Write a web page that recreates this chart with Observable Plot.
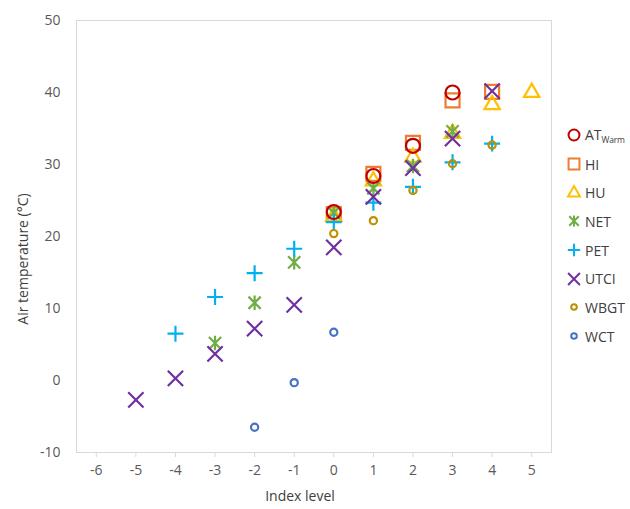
<!DOCTYPE html>
<html><head><meta charset="utf-8">
<script src="https://cdn.jsdelivr.net/npm/d3@7"></script>
<script src="https://cdn.jsdelivr.net/npm/@observablehq/plot@0.6"></script>
<style>
body{margin:0;background:#fff;font-family:"Open Sans",sans-serif;}
#wrap{position:relative;width:630px;height:509px;overflow:hidden;}
#wrap svg.chart{position:absolute;left:0;top:0;}
.ylab{position:absolute;left:22px;top:259px;transform:translate(-50%,-50%) rotate(-90deg);white-space:nowrap;font-size:14px;color:#404040;}
.xlab{position:absolute;left:300px;top:495px;transform:translate(-50%,-50%);white-space:nowrap;font-size:14px;color:#404040;}
.legend{position:absolute;left:565px;top:121px;font-size:14px;color:#404040;}
.legend .item{height:28.7px;display:flex;align-items:center;white-space:nowrap;}
.legend svg{width:18px;height:18px;margin-right:2px;flex:none;}
.legend sub{font-size:8.5px;vertical-align:-3px;letter-spacing:-0.2px;}
</style></head><body><div id="wrap"></div>
<script>
// ---- data ----
const xTicks = [-6, -5, -4, -3, -2, -1, 0, 1, 2, 3, 4, 5];
const yTicks = [-10, 0, 10, 20, 30, 40, 50];
const seriesNames = ["AT", "HI", "HU", "NET", "PET", "UTCI", "WBGT", "WCT"];

const atLevel = [0, 1, 2, 3];
const atTemp = [23.4, 28.4, 32.6, 40.0];
const hiLevel = [0, 1, 2, 3, 4];
const hiTemp = [23.1, 28.7, 33.0, 38.9, 40.1];
const huLevel = [0, 1, 2, 3, 4, 5];
const huTemp = [22.8, 27.7, 31.0, 34.3, 38.3, 40.0];
const netLevel = [-3, -2, -1, 0, 1, 2, 3];
const netTemp = [5.2, 10.8, 16.4, 23.3, 26.7, 29.8, 34.6];
const petLevel = [-4, -3, -2, -1, 0, 1, 2, 3, 4];
const petTemp = [6.5, 11.6, 14.9, 18.3, 22.0, 24.7, 26.9, 30.3, 32.9];
const utciLevel = [-5, -4, -3, -2, -1, 0, 1, 2, 3, 4];
const utciTemp = [-2.7, 0.3, 3.7, 7.2, 10.5, 18.5, 25.5, 29.5, 33.6, 40.2];
const wbgtLevel = [0, 1, 2, 3, 4];
const wbgtTemp = [20.4, 22.2, 26.4, 30.1, 32.7];
const wctLevel = [-2, -1, 0];
const wctTemp = [-6.5, -0.3, 6.7];

// ---- styles ----
// Excel-like "star" marker: an X with a vertical bar through it
const starSymbol = {
  draw(context, size) {
    const h = Math.sqrt(size) * 0.52;
    const a = h * 0.85;
    context.moveTo(-a, -a); context.lineTo(a, a);
    context.moveTo(-a, a); context.lineTo(a, -a);
    context.moveTo(0, -h); context.lineTo(0, h);
  }
};
const styles = {
  AT:   {color: "#C00000", symbol: d3.symbolCircle,   r: 7.0},
  HI:   {color: "#ED7D31", symbol: d3.symbolSquare,   r: 7.9},
  HU:   {color: "#FFC000", symbol: d3.symbolTriangle, r: 5.7},
  NET:  {color: "#70AD47", symbol: starSymbol,        r: 7.8},
  PET:  {color: "#00B0F0", symbol: d3.symbolPlus,     r: 5.2},
  UTCI: {color: "#7030A0", symbol: d3.symbolTimes,    r: 7.0},
  WBGT: {color: "#BF9000", symbol: d3.symbolCircle,   r: 3.6},
  WCT:  {color: "#4472C4", symbol: d3.symbolCircle,   r: 3.6}
};

const seriesData = {
  AT: [atLevel, atTemp], HI: [hiLevel, hiTemp], HU: [huLevel, huTemp],
  NET: [netLevel, netTemp], PET: [petLevel, petTemp], UTCI: [utciLevel, utciTemp],
  WBGT: [wbgtLevel, wbgtTemp], WCT: [wctLevel, wctTemp]
};
const toRows = (name) => seriesData[name][0].map((x, i) => ({series: name, x, y: seriesData[name][1][i]}));

const drawOrder = ["HI", "HU", "NET", "PET", "UTCI", "WBGT", "WCT", "AT"];

const chart = Plot.plot({
  width: 630,
  height: 509,
  marginLeft: 76,
  marginRight: 79,
  marginTop: 20,
  marginBottom: 57,
  style: {fontFamily: "'Open Sans', sans-serif", fontSize: "14px", color: "#595959", background: "transparent"},
  x: {domain: [-6.5, 5.5]},
  y: {domain: [-10, 50]},
  marks: [
    Plot.frame({stroke: "#d9d9d9"}),
    Plot.axisX({ticks: xTicks, tickSize: 5, tickPadding: 8, stroke: "#d9d9d9", label: null, tickFormat: d => String(d)}),
    Plot.axisY({ticks: yTicks, tickSize: 0, tickPadding: 16, label: null, tickFormat: d => String(d)}),
    ...drawOrder.map(name => Plot.dot(toRows(name), {
      x: "x", y: "y",
      symbol: () => styles[name].symbol,
      stroke: styles[name].color,
      r: styles[name].r,
      strokeWidth: 2.2,
      fill: "none"
    }))
  ]
});
chart.classList.add("chart");

const wrap = document.getElementById("wrap");
wrap.appendChild(chart);

const yl = document.createElement("div");
yl.className = "ylab"; yl.textContent = "Air temperature (°C)";
wrap.appendChild(yl);
const xl = document.createElement("div");
xl.className = "xlab"; xl.textContent = "Index level";
wrap.appendChild(xl);

// legend
const leg = document.createElement("div");
leg.className = "legend";
seriesNames.forEach(name => {
  const st = styles[name];
  const item = document.createElement("div");
  item.className = "item";
  const r = st.r * 0.78;
  const path = d3.symbol(st.symbol, Math.PI * r * r)();
  item.innerHTML = `<svg viewBox="-9 -9 18 18"><path d="${path}" fill="none" stroke="${st.color}" stroke-width="2"/></svg>` +
    (name === "AT" ? `<span>AT<sub>Warm</sub></span>` : `<span>${name}</span>`);
  leg.appendChild(item);
});
wrap.appendChild(leg);
</script>
</body></html>
